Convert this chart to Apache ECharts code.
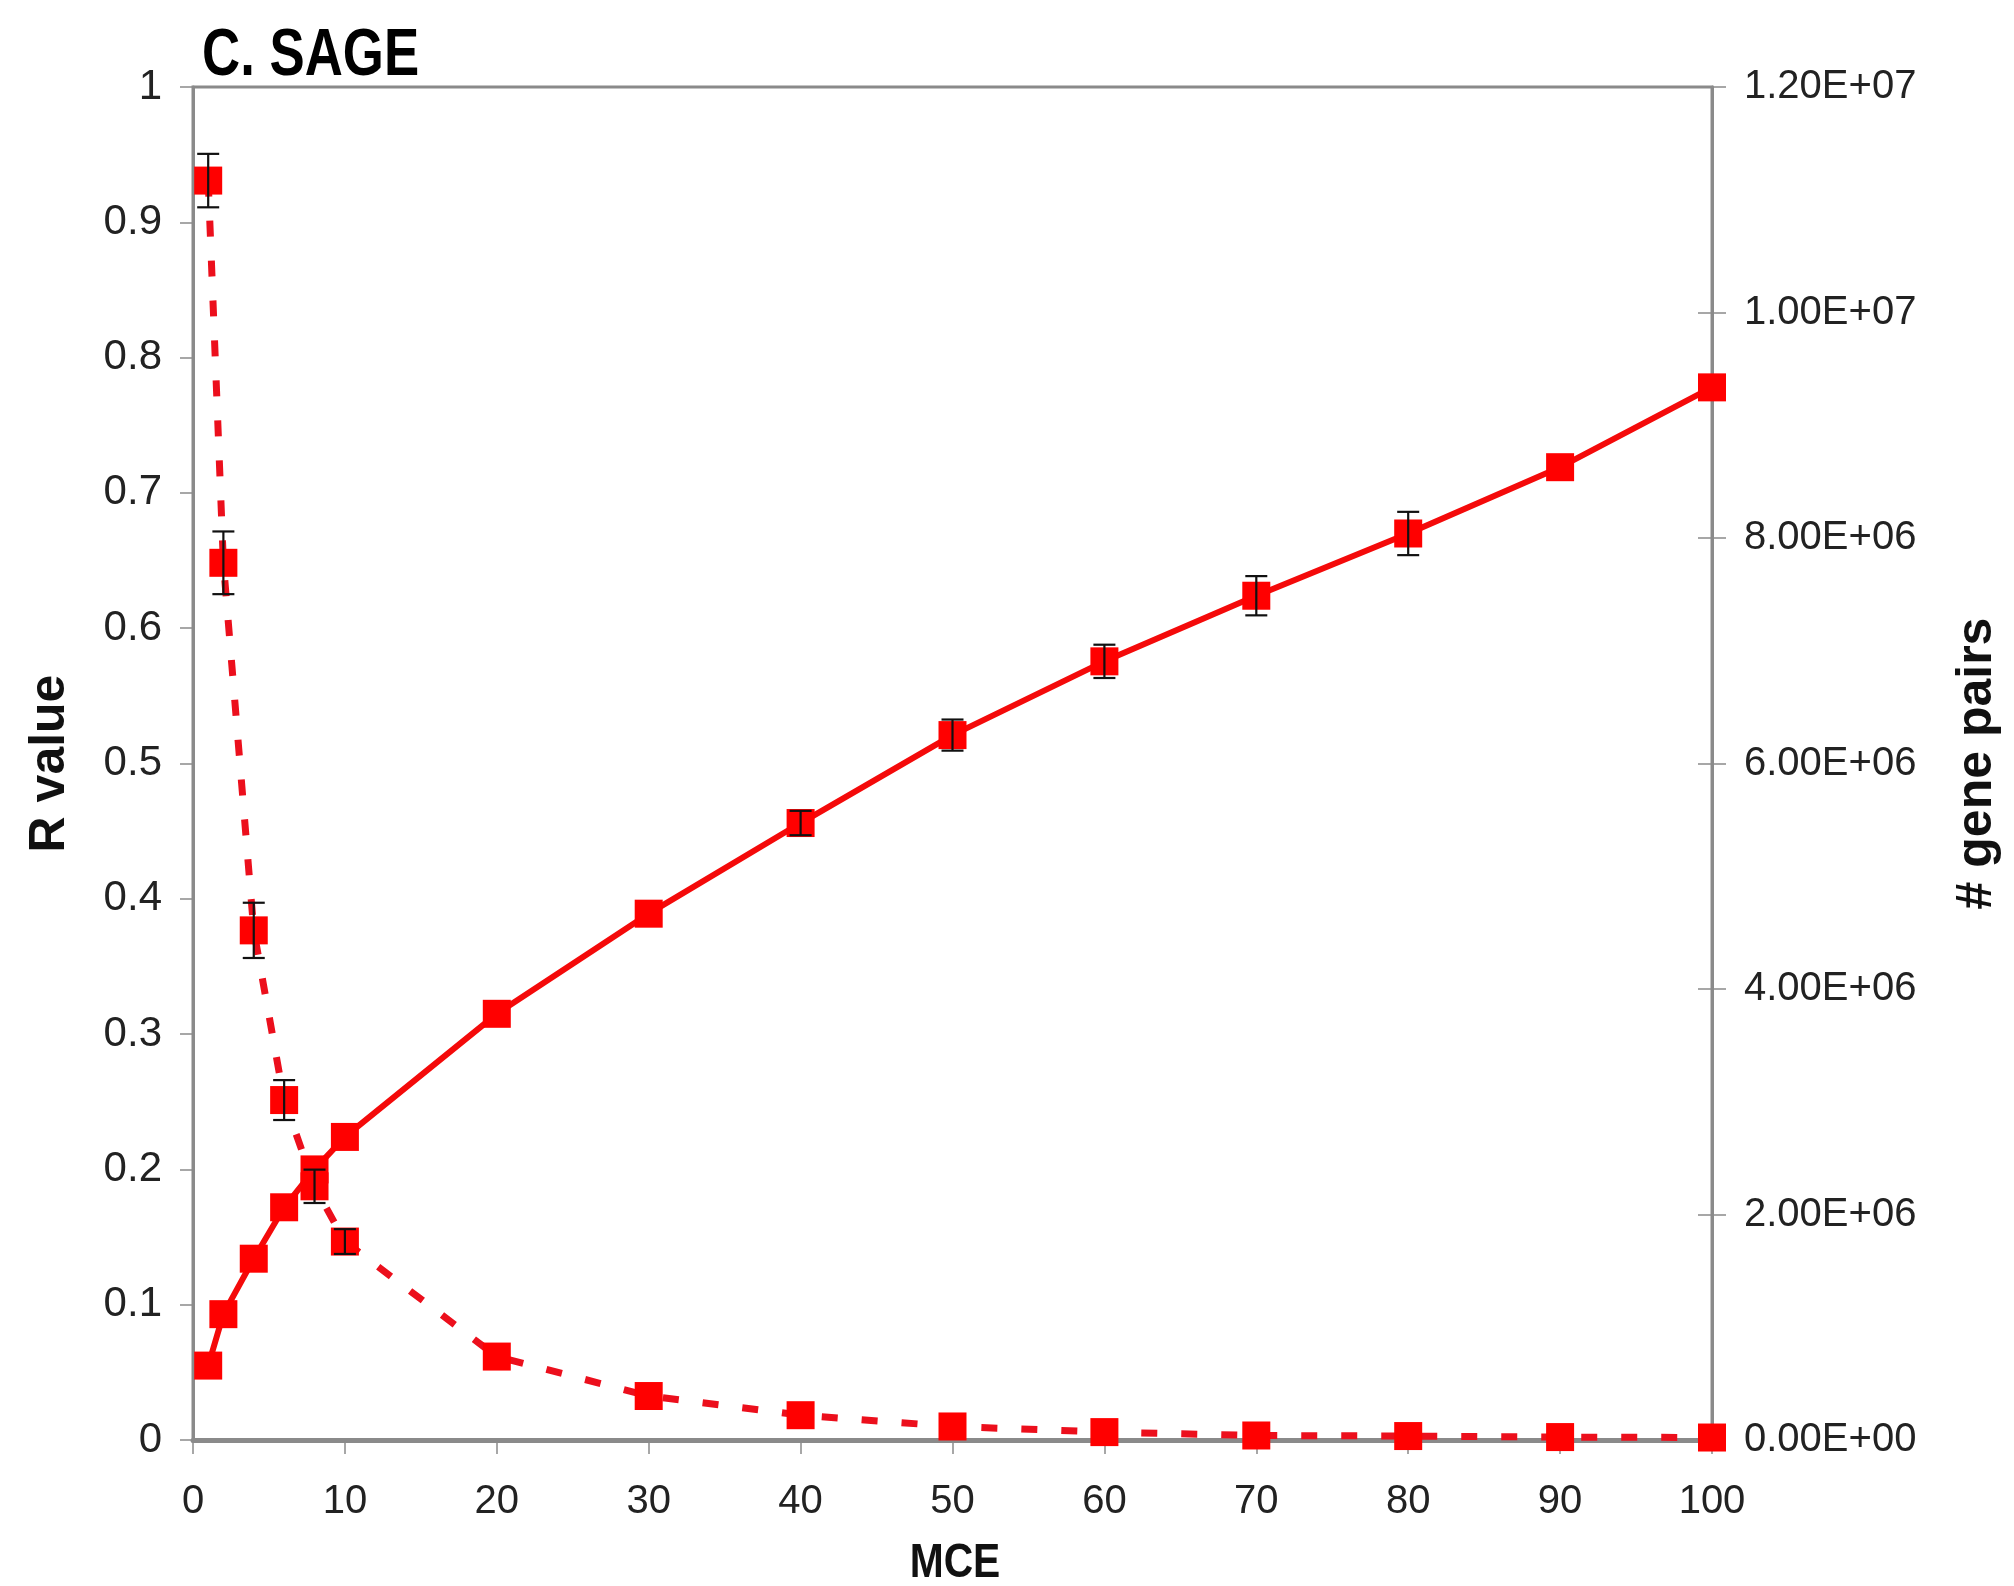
<!DOCTYPE html>
<html>
<head>
<meta charset="utf-8">
<title>C. SAGE</title>
<script src="https://cdn.jsdelivr.net/npm/echarts@6/dist/echarts.min.js"></script>
<style>
  html, body { margin: 0; padding: 0; background: #fff; }
  #chart { width: 2014px; height: 1586px; }
</style>
</head>
<body>
<div id="chart"></div>
<script>
// MCE thresholds (x axis)
const mce = [1, 2, 4, 6, 8, 10, 20, 30, 40, 50, 60, 70, 80, 90, 100];

// Correlation (R value) per threshold, with standard error
const rValue    = [0.055, 0.093, 0.134, 0.172, 0.200, 0.224, 0.315, 0.389, 0.456, 0.521, 0.5755, 0.624, 0.670, 0.719, 0.778];
const rValueErr = [0, 0, 0, 0, 0, 0, 0, 0, 0.009, 0.0115, 0.0123, 0.0145, 0.016, 0, 0];

// Number of gene pairs per threshold, with standard error
const genePairs    = [11170000, 7780000, 4520000, 3015000, 2250000, 1760000, 740000, 390000, 220000, 120000, 70000, 40000, 35000, 26000, 22000];
const genePairsErr = [237000, 278000, 245000, 177000, 148000, 110000, 0, 0, 0, 0, 0, 0, 0, 0, 0];

// Tick labels
const xTickLabels     = ['0', '10', '20', '30', '40', '50', '60', '70', '80', '90', '100'];
const leftTickLabels  = ['0', '0.1', '0.2', '0.3', '0.4', '0.5', '0.6', '0.7', '0.8', '0.9', '1'];
const rightTickLabels = ['0.00E+00', '2.00E+06', '4.00E+06', '6.00E+06', '8.00E+06', '1.00E+07', '1.20E+07'];

const FONT = '"Liberation Sans", Arial, Helvetica, sans-serif';
const AXIS_GRAY = '#8a8a8a';
const RED = '#ff0000';

const chart = echarts.init(document.getElementById('chart'), null, { renderer: 'canvas' });

function pairs(xs, ys) { return xs.map((x, i) => [x, ys[i]]); }
function errRows(xs, ys, es) {
  return xs.map((x, i) => [x, ys[i] - es[i], ys[i] + es[i], es[i]]).filter(r => r[3] > 0);
}

// Vertical error bar with horizontal caps
function errorBar(params, api) {
  const x = api.value(0);
  const lo = api.coord([x, api.value(1)]);
  const hi = api.coord([x, api.value(2)]);
  const cap = 11;
  const st = { stroke: '#111', lineWidth: 2.2 };
  return {
    type: 'group',
    children: [
      { type: 'line', shape: { x1: lo[0], y1: lo[1], x2: hi[0], y2: hi[1] }, style: st },
      { type: 'line', shape: { x1: lo[0] - cap, y1: lo[1], x2: lo[0] + cap, y2: lo[1] }, style: st },
      { type: 'line', shape: { x1: hi[0] - cap, y1: hi[1], x2: hi[0] + cap, y2: hi[1] }, style: st }
    ]
  };
}

const labelStyle = { fontFamily: FONT, fontSize: 40, color: '#222' };

const option = {
  backgroundColor: '#ffffff',
  animation: false,
  grid: {
    left: 193, right: 302, top: 87, bottom: 146,
    show: true, borderColor: AXIS_GRAY, borderWidth: 3, backgroundColor: 'transparent'
  },
  xAxis: {
    type: 'value', min: 0, max: 100, interval: 10,
    axisLine: { show: true, onZero: false, lineStyle: { color: AXIS_GRAY, width: 5 } },
    axisTick: { show: true, inside: false, length: 14, lineStyle: { color: AXIS_GRAY, width: 1.5 } },
    axisLabel: Object.assign({ margin: 42, formatter: v => xTickLabels[Math.round(v / 10)] }, labelStyle),
    splitLine: { show: false }
  },
  yAxis: [
    {
      type: 'value', position: 'left', min: 0, max: 1, interval: 0.1,
      name: 'R value', nameLocation: 'middle', nameRotate: 90, nameGap: 118,
      nameTextStyle: { fontFamily: FONT, fontSize: 50, fontWeight: 'bold', color: '#111' },
      axisLine: { show: true, lineStyle: { color: AXIS_GRAY, width: 3 } },
      axisTick: { show: true, inside: false, length: 13, lineStyle: { color: AXIS_GRAY, width: 1.5 } },
      axisLabel: Object.assign({ margin: 31, formatter: v => leftTickLabels[Math.round(v * 10)] }, labelStyle, { fontSize: 42 }),
      splitLine: { show: false }
    },
    {
      type: 'value', position: 'right', min: 0, max: 12000000, interval: 2000000,
      name: '# gene pairs', nameLocation: 'middle', nameRotate: 90, nameGap: 240,
      nameTextStyle: { fontFamily: FONT, fontSize: 50, fontWeight: 'bold', color: '#111' },
      axisLine: { show: true, lineStyle: { color: AXIS_GRAY, width: 3 } },
      axisTick: { show: true, inside: false, length: 14, lineStyle: { color: AXIS_GRAY, width: 1.5 } },
      axisLabel: Object.assign({ margin: 32, formatter: v => rightTickLabels[Math.round(v / 2000000)] }, labelStyle),
      splitLine: { show: false }
    },
    {
      // inward half of the crossing ticks on the right axis
      type: 'value', position: 'right', min: 0, max: 12000000, interval: 2000000,
      axisLine: { show: false },
      axisTick: { show: true, inside: true, length: 14, lineStyle: { color: AXIS_GRAY, width: 1.5 } },
      axisLabel: { show: false },
      splitLine: { show: false }
    }
  ],
  graphic: [
    {
      type: 'text', x: 202, y: 57, scaleX: 0.8, z: 10,
      style: { text: 'C. SAGE', font: 'bold 66px ' + FONT, fill: '#000', textVerticalAlign: 'middle' }
    },
    {
      type: 'text', x: 955, y: 1564, scaleX: 0.85, z: 10,
      style: { text: 'MCE', font: 'bold 48px ' + FONT, fill: '#111', textAlign: 'center', textVerticalAlign: 'middle' }
    }
  ],
  series: [
    {
      name: 'R value', type: 'line', xAxisIndex: 0, yAxisIndex: 0,
      data: pairs(mce, rValue),
      symbol: 'rect', symbolSize: 28,
      itemStyle: { color: RED },
      lineStyle: { color: '#f40a0a', width: 6 },
      z: 3
    },
    {
      name: '# gene pairs', type: 'line', xAxisIndex: 0, yAxisIndex: 1,
      data: pairs(mce, genePairs),
      symbol: 'rect', symbolSize: 28,
      itemStyle: { color: RED },
      lineStyle: { color: '#ec0f1c', width: 7, type: [16, 24], cap: 'butt' },
      z: 4
    },
    {
      type: 'custom', xAxisIndex: 0, yAxisIndex: 0,
      data: errRows(mce, rValue, rValueErr),
      renderItem: errorBar, encode: { x: 0, y: [1, 2] }, z: 6, silent: true
    },
    {
      type: 'custom', xAxisIndex: 0, yAxisIndex: 1,
      data: errRows(mce, genePairs, genePairsErr),
      renderItem: errorBar, encode: { x: 0, y: [1, 2] }, z: 6, silent: true
    }
  ]
};

chart.setOption(option);
</script>
</body>
</html>
